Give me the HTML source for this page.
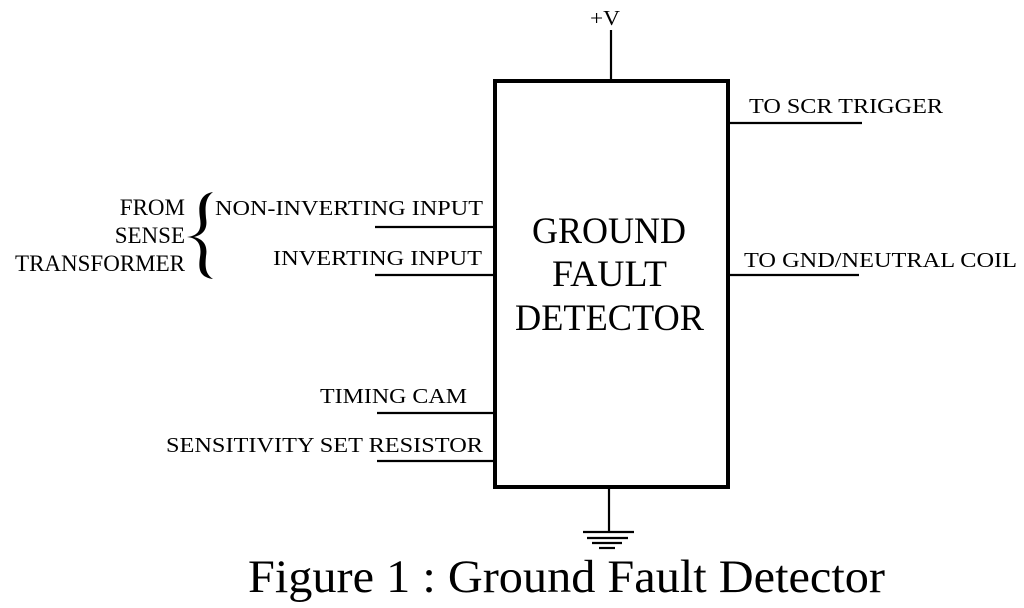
<!DOCTYPE html>
<html><head><meta charset="utf-8"><style>
html,body{margin:0;padding:0;background:#fff;}
svg{display:block;}
text{font-family:"Liberation Serif",serif;fill:#000;}
</style></head><body>
<svg width="1024" height="608" viewBox="0 0 1024 608" xmlns="http://www.w3.org/2000/svg">
<rect x="495" y="81" width="233" height="406" fill="none" stroke="#000" stroke-width="4"/>
<g stroke="#000" stroke-width="2.2">
<line x1="611" y1="30" x2="611" y2="80"/>
<line x1="375" y1="227" x2="495" y2="227"/>
<line x1="375" y1="275" x2="495" y2="275"/>
<line x1="377" y1="413" x2="495" y2="413"/>
<line x1="377" y1="461" x2="495" y2="461"/>
<line x1="728" y1="123" x2="862" y2="123"/>
<line x1="728" y1="275" x2="859" y2="275"/>
<line x1="609" y1="488" x2="609" y2="532"/>
<line x1="583" y1="532" x2="634" y2="532"/>
<line x1="587" y1="538" x2="628" y2="538"/>
<line x1="592" y1="543" x2="622" y2="543"/>
<line x1="599" y1="548" x2="615" y2="548"/>
</g>
<path d="M213,192 C200,194 198,205 200,218 C202,230 198,236 187,237 C198,238 202,245 200,257 C198,270 200,277 213,279 C205,274 205,266 206,256 C208,245 203,239 194,237 C203,235 208,229 206,218 C205,207 205,198 213,192 Z" fill="#000"/>
<g font-size="21">
<text x="590" y="25" textLength="30" lengthAdjust="spacingAndGlyphs">+V</text>
<text x="215" y="215" textLength="268" lengthAdjust="spacingAndGlyphs">NON-INVERTING INPUT</text>
<text x="273" y="265" textLength="209" lengthAdjust="spacingAndGlyphs">INVERTING INPUT</text>
<text x="320" y="403" textLength="147" lengthAdjust="spacingAndGlyphs">TIMING CAM</text>
<text x="166" y="452" textLength="317" lengthAdjust="spacingAndGlyphs">SENSITIVITY SET RESISTOR</text>
<text x="749" y="113" textLength="194" lengthAdjust="spacingAndGlyphs">TO SCR TRIGGER</text>
<text x="744" y="267" textLength="273" lengthAdjust="spacingAndGlyphs">TO GND/NEUTRAL COIL</text>
</g>
<g font-size="23">
<text x="185" y="215" text-anchor="end">FROM</text>
<text x="185" y="243" text-anchor="end">SENSE</text>
<text x="185" y="271" text-anchor="end">TRANSFORMER</text>
</g>
<g font-size="37">
<text x="532" y="243" textLength="154" lengthAdjust="spacingAndGlyphs">GROUND</text>
<text x="552" y="286" textLength="115" lengthAdjust="spacingAndGlyphs">FAULT</text>
<text x="515" y="330" textLength="189" lengthAdjust="spacingAndGlyphs">DETECTOR</text>
</g>
<text x="248" y="592" font-size="47" textLength="637" lengthAdjust="spacingAndGlyphs">Figure 1 : Ground Fault Detector</text>
</svg>
</body></html>
